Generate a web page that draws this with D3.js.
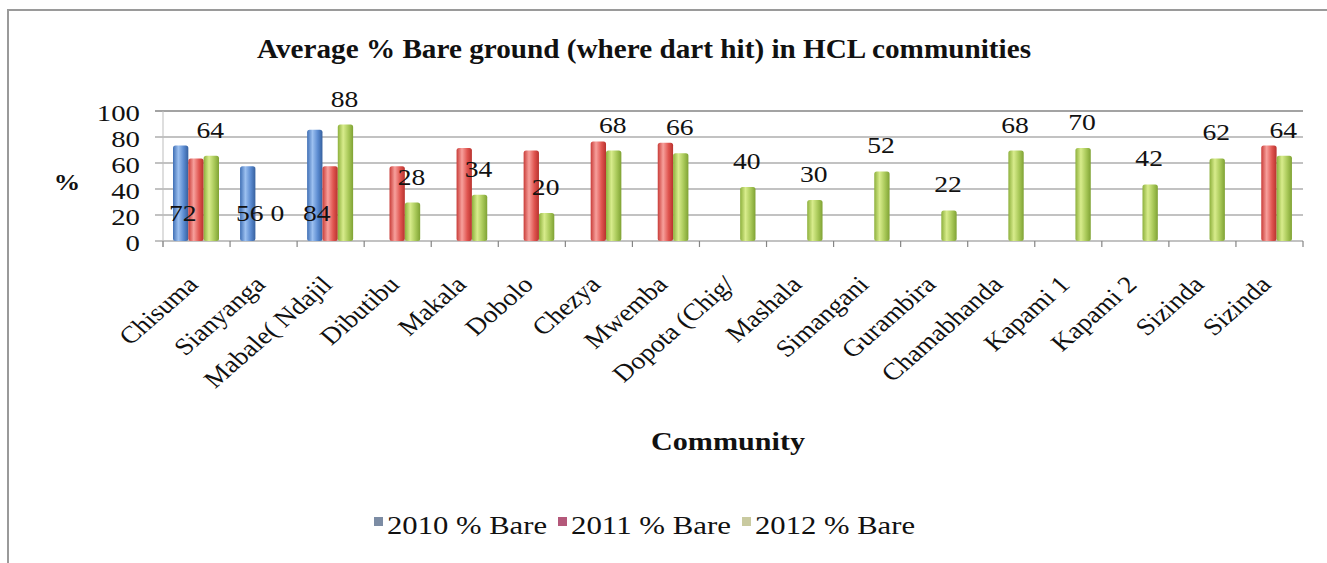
<!DOCTYPE html>
<html>
<head>
<meta charset="utf-8">
<script src="https://cdn.jsdelivr.net/npm/d3@7"></script>
<style>
  html, body { margin: 0; padding: 0; background: #fff; }
  svg { display: block; }
  text { font-family: "Liberation Serif", "Times New Roman", serif; fill: #111; }
</style>
</head>
<body>
<svg id="chart" width="1327" height="563"></svg>
<script>
// Communities along the category axis (the last name appears twice in the survey sheet)
const communities = ["Chisuma", "Sianyanga", "Mabale( Ndajil", "Dibutibu", "Makala", "Dobolo",
  "Chezya", "Mwemba", "Dopota (Chig/", "Mashala", "Simangani", "Gurambira", "Chamabhanda",
  "Kapami 1", "Kapami 2", "Sizinda", "Sizinda"];

// Average % bare ground per survey year (null = community not surveyed that year)
const bare2010 = [72, 56, 84, null, null, null, null, null, null, null, null, null, null, null, null, null, null];
const bare2011 = [62, null, 56, 56, 70, 68, 75, 74, null, null, null, null, null, null, null, null, 72];
const bare2012 = [64, 0, 88, 28, 34, 20, 68, 66, 40, 30, 52, 22, 68, 70, 42, 62, 64];

const seriesNames = ["2010 % Bare", "2011 % Bare", "2012 % Bare"];
const yTicks = [0, 20, 40, 60, 80, 100];

const svg = d3.select("#chart");
const SX = 1.15;   // horizontal stretch of the original export

// outer frame
svg.append("rect").attr("x", 8).attr("y", 10).attr("width", 1340).attr("height", 570)
  .attr("fill", "#fff").attr("stroke", "#9a9a9a").attr("stroke-width", 2);

// cylinder-style gradients for the bars
const defs = svg.append("defs");
const palettes = [
  ["#3f6fb5", "#9cc0f0", "#5a8ad0", "#36609e"],
  ["#c93c38", "#f7a09c", "#e05550", "#b8322e"],
  ["#8db03c", "#d8ec8c", "#a8c858", "#7fa234"]
];
palettes.forEach((p, i) => {
  const g = defs.append("linearGradient").attr("id", "bar" + i)
    .attr("x1", "0%").attr("x2", "100%").attr("y1", "0%").attr("y2", "0%");
  g.append("stop").attr("offset", "0%").attr("stop-color", p[0]);
  g.append("stop").attr("offset", "35%").attr("stop-color", p[1]);
  g.append("stop").attr("offset", "70%").attr("stop-color", p[2]);
  g.append("stop").attr("offset", "100%").attr("stop-color", p[3]);
});
const legendFill = ["#7c8ca4", "#b4587a", "#c9caa0"];

const x = d3.scaleBand().domain(d3.range(communities.length)).range([163, 1303]);
const xs = d3.scaleBand().domain([0, 1, 2]).range([10, 56]);
const y = d3.scaleLinear().domain([0, 100]).range([241, 111]);

// title
svg.append("text").attr("x", 257).attr("y", 58)
  .attr("font-size", 27).attr("font-weight", "bold")
  .attr("textLength", 774).attr("lengthAdjust", "spacingAndGlyphs")
  .text("Average % Bare ground (where dart hit) in HCL communities");

// gridlines + y ticks
const grid = svg.append("g");
yTicks.forEach(t => {
  grid.append("line").attr("x1", 155).attr("x2", 1303)
    .attr("y1", y(t)).attr("y2", y(t))
    .attr("stroke", "#858585").attr("stroke-width", t === 100 ? 1.6 : 1.2);
  grid.append("text")
    .attr("transform", `translate(140,${y(t) + 10}) scale(1.2,1)`)
    .attr("text-anchor", "end").attr("font-size", 24).text(t);
});
// side wall edge and category ticks
grid.append("line").attr("x1", 163).attr("x2", 163).attr("y1", y(100)).attr("y2", y(0) + 6)
  .attr("stroke", "#bdbdbd").attr("stroke-width", 1);
x.domain().concat([communities.length]).forEach(i => {
  const xx = i < communities.length ? x(i) : x.range()[1];
  grid.append("line").attr("x1", xx).attr("x2", xx).attr("y1", y(0)).attr("y2", y(0) + 6)
    .attr("stroke", "#858585").attr("stroke-width", 1.2);
});

// bars
const all = [bare2010, bare2011, bare2012];
const bars = svg.append("g");
all.forEach((vals, s) => {
  vals.forEach((v, i) => {
    if (v === null || v === 0) return;
    bars.append("rect")
      .attr("x", x(i) + xs(s)).attr("width", xs.bandwidth())
      .attr("y", y(v) - 2).attr("height", y(0) - y(v) + 2)
      .attr("rx", 2.5)
      .attr("fill", `url(#bar${s})`);
  });
});

// value labels: 2010 sits at the base of the bar, 2012 above the bar
const labels = svg.append("g");
bare2010.forEach((v, i) => {
  if (v === null) return;
  labels.append("text")
    .attr("transform", `translate(${x(i) + xs(0) + xs.bandwidth() / 2 + 2},${y(0) - 20}) scale(${SX},1)`)
    .attr("text-anchor", "middle").attr("font-size", 24).text(v);
});
bare2012.forEach((v, i) => {
  if (v === null) return;
  labels.append("text")
    .attr("transform", `translate(${x(i) + xs(2) + xs.bandwidth() / 2 - 1},${y(v) - 20}) scale(${SX},1)`)
    .attr("text-anchor", "middle").attr("font-size", 24).text(v);
});

// category labels
svg.append("g").selectAll("text").data(communities).join("text")
  .attr("transform", (d, i) => `translate(${x(i) + x.bandwidth() / 2 + 3},286) scale(1.15,1) rotate(-45)`)
  .attr("text-anchor", "end").attr("font-size", 24).text(d => d);

// axis titles
svg.append("text").attr("transform", `translate(67,190) scale(${SX},1)`)
  .attr("text-anchor", "middle").attr("font-size", 23).attr("font-weight", "bold").text("%");
svg.append("text").attr("x", 651).attr("y", 450)
  .attr("font-size", 25).attr("font-weight", "bold")
  .attr("textLength", 154).attr("lengthAdjust", "spacingAndGlyphs").text("Community");

// legend
const legendX = [374, 558, 742];
const legend = svg.append("g");
seriesNames.forEach((name, s) => {
  legend.append("rect").attr("x", legendX[s]).attr("y", 517).attr("width", 9).attr("height", 9)
    .attr("fill", legendFill[s]);
  legend.append("text").attr("x", legendX[s] + 13).attr("y", 534)
    .attr("font-size", 26).attr("textLength", 160).attr("lengthAdjust", "spacingAndGlyphs")
    .text(name);
});
</script>
</body>
</html>
